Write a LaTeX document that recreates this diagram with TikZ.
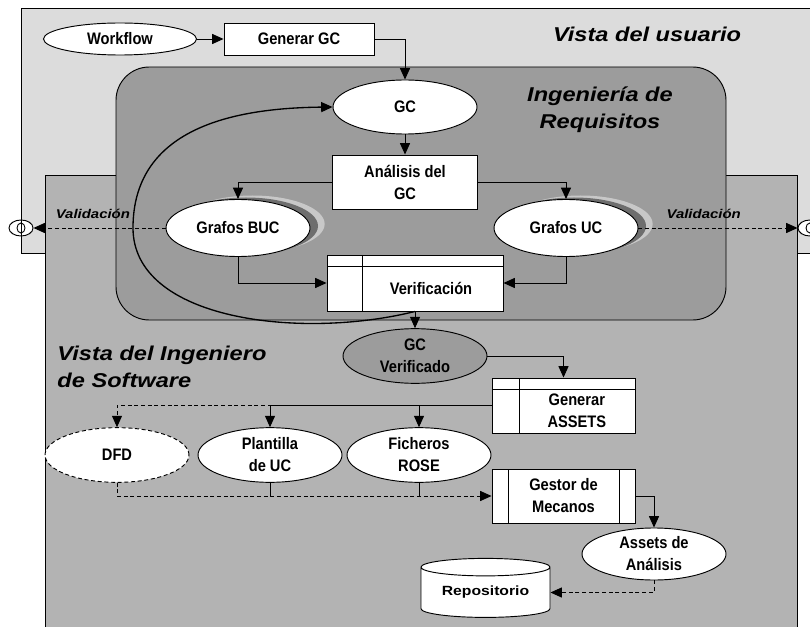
\documentclass[tikz,border=0pt]{standalone}
\usepackage{fontspec}
\usepackage{xcolor}
\usepackage{tikz}
\usetikzlibrary{arrows.meta, positioning, shapes.geometric, shadows}
\newfontfamily\narrowsf{Liberation Sans}[FakeStretch=0.88]
\newfontfamily\widesf{Liberation Sans}[FakeStretch=1.18]
\definecolor{kuser}{HTML}{DCDCDC}
\definecolor{ksoft}{HTML}{B3B3B3}
\definecolor{kreq}{HTML}{9C9C9C}
\definecolor{kglow}{HTML}{C8C8C8}
\definecolor{kglowdark}{HTML}{6E6E6E}

\begin{document}
\begin{tikzpicture}[x=0.75pt, y=-0.75pt, line width=0.7pt,
  txt/.style={font=\narrowsf\fontsize{12.5}{16.5}\selectfont\bfseries, align=center, inner sep=0pt},
  oval/.style={txt, ellipse, draw, fill=white, minimum width=108pt, minimum height=41pt},
  box/.style={txt, rectangle, draw, fill=white},
  glow/.style={oval,
    drop shadow={shadow xshift=11pt, shadow yshift=3pt, fill=kglow, opacity=1},
    drop shadow={shadow xshift=6pt, shadow yshift=1.5pt, fill=kglowdark, opacity=1}},
  task/.style={box, path picture={
    \draw ([yshift=-8.25pt]path picture bounding box.north west) -- ([yshift=-8.25pt]path picture bounding box.north east);
    \draw ([xshift=#1]path picture bounding box.north west) -- ([xshift=#1]path picture bounding box.south west);}},
  subproc/.style={box, path picture={
    \draw ([xshift=12pt]path picture bounding box.north west) -- ([xshift=12pt]path picture bounding box.south west);
    \draw ([xshift=-12pt]path picture bounding box.north east) -- ([xshift=-12pt]path picture bounding box.south east);}},
  iface/.style={ellipse, draw, fill=white, minimum width=18pt, minimum height=12pt, inner sep=0pt,
    path picture={
    \draw (path picture bounding box.north) -- (path picture bounding box.south);
    \draw (path picture bounding box.center) ellipse [x radius=3pt, y radius=3.75pt];}},
  store/.style={cylinder, shape border rotate=90, aspect=0.2, draw, fill=white, inner sep=0pt,
    minimum width=96.75pt, minimum height=44.25pt, font=\widesf\fontsize{10}{12}\selectfont\bfseries},
  ttl/.style={font=\widesf\fontsize{15}{20.5}\selectfont\bfseries\itshape, inner sep=0pt},
  valid/.style={font=\widesf\fontsize{9.5}{11}\selectfont\bfseries\itshape},
  arr/.style={-{Triangle[length=8.5pt, width=7.5pt]}},
  dsh/.style={dash pattern=on 3pt off 2pt}]

  \useasboundingbox (0,0) rectangle (810,627);

  %% Views
  \filldraw[fill=kuser] (21,8) rectangle (814,253);
  \filldraw[fill=ksoft] (45,175) rectangle (797,640);
  \filldraw[fill=kreq, rounded corners=25pt] (116,67) rectangle (726,320);

  \node[ttl] (tuser) at (647,34) {Vista del usuario};
  \node[ttl, align=center] (treq) at (600,110) {Ingeniería de\\Requisitos};
  \node[ttl, align=left, anchor=west] (tsoft) at (57,367) {Vista del Ingeniero\\de Software};

  %% Vista del usuario
  \node[oval, minimum width=114.75pt, minimum height=24pt] (wf) at (120,39) {Workflow};
  \node[box, minimum width=112.5pt, minimum height=24pt] (gengc) at (299,39) {Generar GC};
  \node[iface] (vl) at (21,228) {};
  \node[iface] (vr) at (810,228) {};

  %% Ingenieria de requisitos
  \node[oval, minimum height=40.5pt] (gc) at (405,107) {GC};
  \node[box, minimum width=108.75pt, minimum height=40.5pt] (ana) at (405,182) {Análisis del\\GC};
  \node[glow, minimum height=42.75pt] (buc) at (238,228) {Grafos BUC};
  \node[glow, minimum height=42.75pt] (guc) at (566,228) {Grafos UC};
  \node[task=26.25pt, minimum width=132pt, minimum height=42pt,
    label={[txt, xshift=12pt, yshift=-3.75pt]center:Verificación}] (verif) at (415,283) {};

  %% Vista del ingeniero de software
  \node[oval, fill=kreq] (gcv) at (415,356) {GC\\Verificado};
  \node[task=20.25pt, minimum width=107.25pt, minimum height=41.25pt,
    label={[txt, xshift=10pt, yshift=-4pt]center:Generar\\ASSETS}] (gassets) at (563.5,405.5) {};
  \node[oval, dsh] (dfd) at (117,455) {DFD};
  \node[oval] (plant) at (270,455) {Plantilla\\de UC};
  \node[oval] (fich) at (419,455) {Ficheros\\ROSE};
  \node[subproc, minimum width=107.25pt, minimum height=40.5pt] (gestor) at (563.5,496) {Gestor de\\Mecanos};
  \node[oval, minimum height=39pt] (assets) at (654,554) {Assets de\\Análisis};
  \node[store] (repo) at (485.5,592.5) {Repositorio};

  %% Connectors
  \draw[arr] (wf) -- (gengc);
  \draw[arr] (gengc) -| (gc);
  \draw[arr] (gc) -- (ana);
  \draw[arr] (ana) -| (buc);
  \draw[arr] (ana) -| (guc);
  \draw[arr] (buc) |- (verif);
  \draw[arr] (guc) |- (verif);
  \draw[arr, dsh] (buc) -- (vl) node[valid, pos=0.55, above=3pt] {Validación};
  \draw[arr, dsh] (guc) -- (vr) node[valid, pos=0.41, above=3pt] {Validación};
  \draw[arr, line width=1pt] (verif.south) .. controls (300,340) and (133,320) .. (133,228)
    .. controls (133,125) and (240,108) .. (gc.west);
  \draw[arr] (verif) -- (gcv);
  \draw[arr] (gcv) -| (gassets);
  \draw[arr, dsh] (gassets) -| (dfd);
  \draw[arr] (gassets) -| (plant);
  \draw[arr] (gassets) -| (fich);
  \draw[arr, dsh] (dfd) |- (gestor);
  \draw (plant) -- (plant |- gestor);
  \draw (fich) -- (fich |- gestor);
  \draw[arr] (gestor) -| (assets);
  \draw[arr, dsh] (assets) |- (repo);

\end{tikzpicture}
\end{document}
